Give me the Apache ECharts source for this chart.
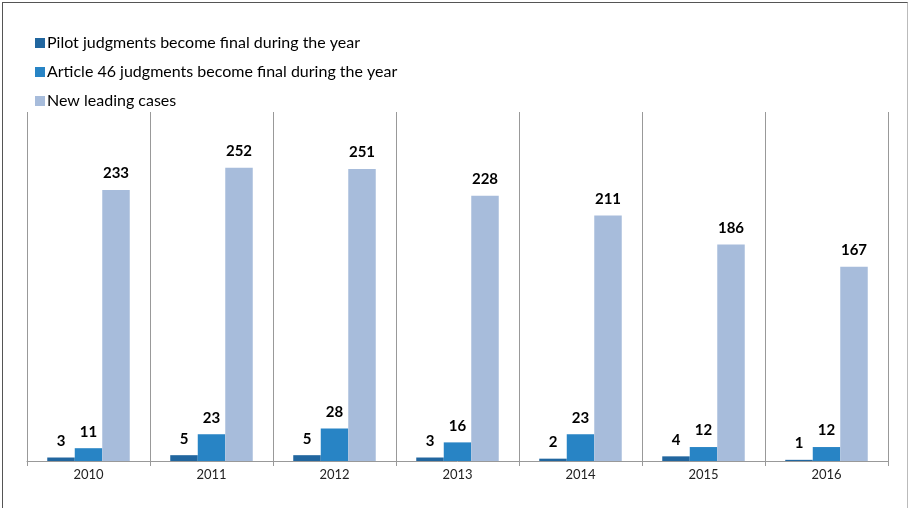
<!DOCTYPE html>
<html><head><meta charset="utf-8">
<script src="https://cdn.jsdelivr.net/npm/echarts@6/dist/echarts.min.js"></script>
<style>
html,body{margin:0;padding:0;background:#fff;}
#frame{position:absolute;left:2px;top:2px;width:904px;height:510px;border-top:1px solid #555;border-left:1px solid #555;border-right:1px solid #bbb;}
#c{position:absolute;left:0;top:0;width:909px;height:508px;}
</style></head>
<body>
<div id="frame"></div>
<div id="c"></div>
<script>
const years = ['2010','2011','2012','2013','2014','2015','2016'];
const seriesNames = ['Pilot judgments become final during the year','Article 46 judgments become final during the year','New leading cases'];
const pilot = [3,5,5,3,2,4,1];
const article46 = [11,23,28,16,23,12,12];
const leading = [233,252,251,228,211,186,167];
const colors = ['#21669F','#2884C5','#A7BCDB'];

const chart = echarts.init(document.getElementById('c'));
const lbl = {show:true,position:'top',distance:9,fontFamily:'Lato',fontWeight:'bold',fontSize:15,color:'#000'};
chart.setOption({
  animation:false,
  textStyle:{fontFamily:'Lato'},
  legend:{
    orient:'vertical',left:30,top:30,itemWidth:10,itemHeight:10,itemGap:13,
    icon:'rect',
    textStyle:{fontFamily:'Lato',fontSize:16,color:'#000',padding:[0,0,0,-3]},
    data:seriesNames
  },
  grid:{left:27,right:21,top:112,bottom:47},
  xAxis:{
    type:'category',data:years,
    axisLine:{lineStyle:{color:'#999',width:1}},
    axisTick:{show:true,length:5,lineStyle:{color:'#999'}},
    splitLine:{show:true,lineStyle:{color:'#999',width:1}},
    axisLabel:{fontFamily:'Lato',fontSize:13,color:'#222',margin:7}
  },
  yAxis:{type:'value',min:0,max:300,show:false,splitLine:{show:false}},
  series:[
    {name:seriesNames[0],type:'bar',data:pilot,barWidth:27.5,barGap:'0%',itemStyle:{color:colors[0]},label:lbl},
    {name:seriesNames[1],type:'bar',data:article46,barWidth:27.5,barGap:'0%',itemStyle:{color:colors[1]},label:lbl},
    {name:seriesNames[2],type:'bar',data:leading,barWidth:27.5,barGap:'0%',itemStyle:{color:colors[2]},label:lbl}
  ]
});
</script>
</body></html>
